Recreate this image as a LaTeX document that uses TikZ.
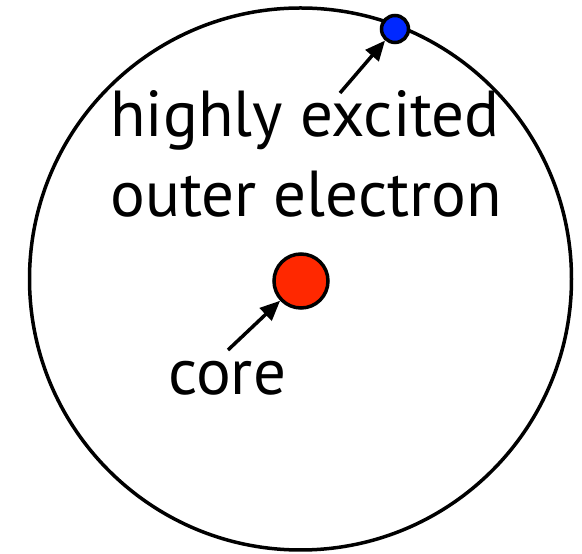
\documentclass[tikz,border=0pt]{standalone}
\usepackage{fontspec}
\setmainfont{PT Sans}
\usetikzlibrary{arrows.meta}
\definecolor{eblue}{RGB}{0,40,255}
\definecolor{cred}{RGB}{255,40,0}
\tikzset{
  orbit/.style={draw=black, line width=3.5pt},
  particle/.style={circle, draw=black, line width=3.5pt, inner sep=0pt},
  pointer/.style={line width=3.5pt, -{Triangle[length=20pt,width=17pt]}},
  lbl/.style={anchor=base west, inner sep=0pt, font=\fontsize{65}{78}\selectfont}
}
\begin{document}
\begin{tikzpicture}[x=1pt,y=1pt]
\useasboundingbox (0,0) rectangle (582,554);
\node[particle, minimum size=542pt] (atom) at (300.5,275) {};
\node[particle, fill=cred, minimum size=54pt] (core) at (301,273) {};
\node[particle, fill=eblue, minimum size=27pt] (el) at (395,525) {};
\node[lbl] (l1) at (110,417) {highly excited};
\node[lbl] (l2) at (110,337) {outer electron};
\node[lbl] (l3) at (168,159) {core};
\coordinate (t1) at (340,461);
\coordinate (t2) at (228,204);
\draw[pointer] (t1) -- (el);
\draw[pointer] (t2) -- (core);
\end{tikzpicture}
\end{document}
